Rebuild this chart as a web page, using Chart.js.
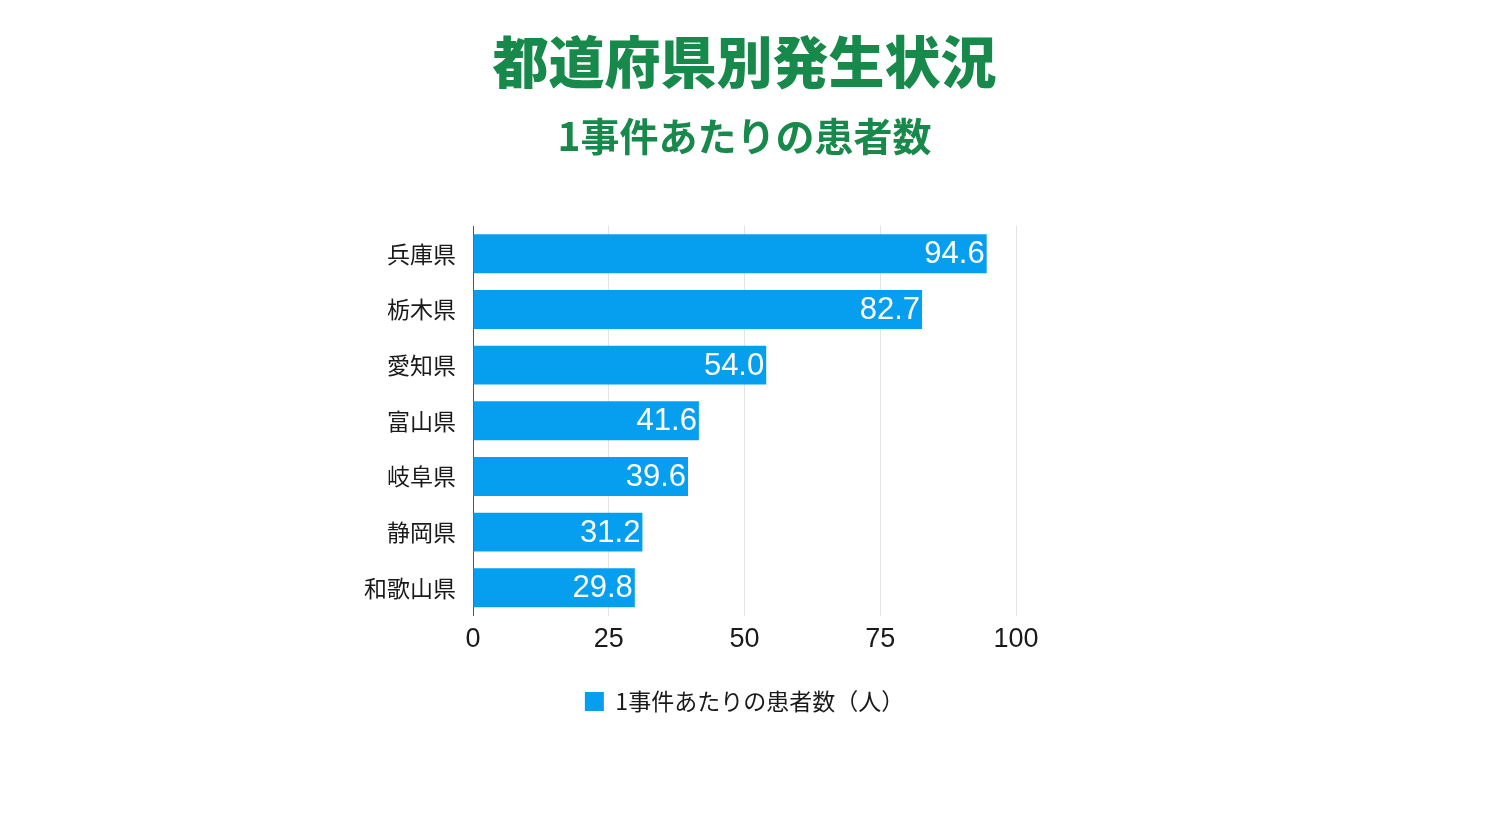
<!DOCTYPE html>
<html lang="ja">
<head>
<meta charset="utf-8">
<title>都道府県別発生状況</title>
<script src="https://cdn.jsdelivr.net/npm/chart.js@4"></script>
<style>
  html, body { margin: 0; padding: 0; background: #fff; }
  #wrap { width: 1489px; height: 838px; }
</style>
</head>
<body>
<div id="wrap"><canvas id="chart"></canvas></div>
<script>
const prefectures = ["兵庫県", "栃木県", "愛知県", "富山県", "岐阜県", "静岡県", "和歌山県"];
const patientsPerCase = [94.6, 82.7, 54.0, 41.6, 39.6, 31.2, 29.8];
const xTicks = [0, 25, 50, 75, 100];

const seriesLabel = "1事件あたりの患者数（人）";
const barColor = "#069ff0";
const titleColor = "#16894b";
const jpFont = "'Noto Sans CJK JP', 'Noto Sans', sans-serif";
const numFont = "'Liberation Sans', 'Noto Sans CJK JP', sans-serif";

// values drawn inside the end of each bar
const barValueLabels = {
    id: "barValueLabels",
    afterDatasetsDraw(chart) {
        const ctx = chart.ctx;
        const meta = chart.getDatasetMeta(0);
        ctx.save();
        ctx.fillStyle = "#ffffff";
        ctx.font = "31px " + numFont;
        ctx.textAlign = "right";
        ctx.textBaseline = "middle";
        meta.data.forEach((bar, i) => {
            ctx.fillText(patientsPerCase[i].toFixed(1), bar.x - 2, bar.y + 1);
        });
        ctx.restore();
    }
};

new Chart(document.getElementById("chart").getContext("2d"), {
    type: "bar",
    data: {
        labels: prefectures,
        datasets: [
            {
                label: seriesLabel,
                data: patientsPerCase,
                backgroundColor: barColor,
                borderWidth: 0,
                categoryPercentage: 1.0,
                barPercentage: 0.7
            }
        ]
    },
    options: {
        indexAxis: "y",
        responsive: true,
        maintainAspectRatio: false,
        animation: false,
        layout: {
            padding: { left: 353, right: 353, top: 20, bottom: 115 }
        },
        scales: {
            x: {
                min: 0,
                max: 100,
                afterBuildTicks: scale => {
                    scale.ticks = xTicks.map(v => ({ value: v }));
                },
                grid: {
                    color: "#e3e3e3",
                    drawTicks: false
                },
                border: { display: false },
                ticks: {
                    color: "#1a1a1a",
                    padding: 8,
                    font: { family: numFont, size: 27 }
                }
            },
            y: {
                afterFit: scale => { scale.width = 120; },
                grid: { display: false, drawTicks: false },
                border: { display: true, color: "#555555", width: 1 },
                ticks: {
                    color: "#1a1a1a",
                    padding: 17,
                    font: { family: jpFont, size: 23 }
                }
            },
            // empty spacer on the right so titles and legend centre on the plot
            yRight: {
                type: "category",
                position: "right",
                labels: prefectures,
                afterFit: scale => { scale.width = 120; },
                grid: { display: false, drawTicks: false },
                border: { display: false },
                ticks: { display: false }
            }
        },
        plugins: {
            title: {
                display: true,
                text: "都道府県別発生状況",
                color: titleColor,
                font: { family: jpFont, size: 56, weight: "900" },
                padding: { top: 8, bottom: 10 }
            },
            subtitle: {
                display: true,
                text: "1事件あたりの患者数",
                color: titleColor,
                font: { family: jpFont, size: 39, weight: "bold" },
                padding: { top: 8, bottom: 66 }
            },
            legend: {
                position: "bottom",
                labels: {
                    color: "#1a1a1a",
                    boxWidth: 19,
                    boxHeight: 19,
                    padding: 26,
                    font: { family: jpFont, size: 23 }
                }
            },
            tooltip: { enabled: false }
        }
    },
    plugins: [barValueLabels]
});
</script>
</body>
</html>
